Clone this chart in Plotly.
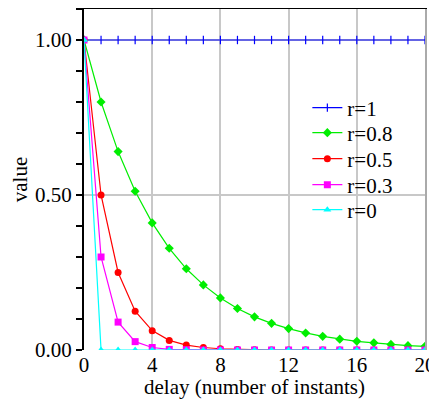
import plotly.graph_objects as go

delay = list(range(21))
names = ["r=1", "r=0.8", "r=0.5", "r=0.3", "r=0"]
v_r1 = [1.0] * 21
v_r08 = [1.0, 0.8, 0.64, 0.512, 0.41, 0.328, 0.262, 0.21, 0.168, 0.134, 0.107,
         0.086, 0.069, 0.055, 0.044, 0.035, 0.028, 0.023, 0.018, 0.014, 0.012]
v_r05 = [1.0, 0.5, 0.25, 0.125, 0.0625, 0.031, 0.016, 0.008, 0.004, 0.002, 0.001,
         0.0, 0.0, 0.0, 0.0, 0.0, 0.0, 0.0, 0.0, 0.0, 0.0]
v_r03 = [1.0, 0.3, 0.09, 0.027, 0.008, 0.002, 0.001, 0.0, 0.0, 0.0, 0.0,
         0.0, 0.0, 0.0, 0.0, 0.0, 0.0, 0.0, 0.0, 0.0, 0.0]
v_r0 = [1.0] + [0.0] * 20
series = [v_r1, v_r08, v_r05, v_r03, v_r0]
colors = ["#0000ff", "#00ee00", "#ff0000", "#ff00ff", "#00ffff"]
symbols = ["line-ns", "diamond", "circle", "square", "triangle-up"]
ytick_vals = [0, 0.5, 1.0]
legend_ids = ["legend", "legend2", "legend3", "legend4", "legend5"]
legend_y = [0.7097, 0.6364, 0.5601, 0.4839, 0.4106]

font = dict(family="Liberation Serif", size=21, color="black")

fig = go.Figure()
for name, vals, c, s, lg in zip(names, series, colors, symbols, legend_ids):
    marker = dict(symbol=s, size=7, color=c)
    if s == "line-ns":
        marker = dict(symbol=s, size=6, color=c, line=dict(color=c, width=1.2))
    fig.add_trace(go.Scatter(x=delay, y=vals, mode="lines+markers", name=name,
                             legend=lg,
                             line=dict(color=c, width=1.2), marker=marker))

legends = {}
for lg, ly in zip(legend_ids, legend_y):
    legends[lg] = dict(x=0.655, y=ly, xanchor="left", yanchor="middle",
                       bgcolor="rgba(0,0,0,0)", font=font, itemwidth=30,
                       borderwidth=0)

fig.update_layout(
    width=429, height=391,
    margin=dict(l=76, r=12, t=1, b=49),
    paper_bgcolor="white", plot_bgcolor="white",
    font=font,
    showlegend=True,
    xaxis=dict(range=[0, 20], dtick=4, tick0=0, showgrid=True, gridcolor="#c8c8c8",
               gridwidth=1.5, zeroline=False, showline=False, automargin=False,
               ticks="",
               title=dict(text="delay (number of instants)", standoff=0, font=font),
               tickfont=font),
    yaxis=dict(range=[0, 1.1], tickvals=ytick_vals, tickformat=".2f",
               showgrid=True, gridcolor="#c8c8c8", gridwidth=1.5, zeroline=False,
               showline=True, linecolor="black", linewidth=2, automargin=False,
               ticks="outside", ticklen=6, tickcolor="black", tickwidth=1.5,
               minor=dict(dtick=0.1, tick0=0, ticks="outside", ticklen=6,
                          tickcolor="black", tickwidth=1.5, showgrid=False),
               title=dict(text="value", standoff=8, font=font), tickfont=font),
    xaxis2=dict(overlaying="x", side="top", range=[0, 20], showline=True,
                linecolor="black", linewidth=2, showticklabels=False,
                showgrid=False, zeroline=False, ticks=""),
    yaxis2=dict(overlaying="y", side="right", range=[0, 1.1], showline=True,
                linecolor="#aaaaaa", linewidth=2, showticklabels=False,
                showgrid=False, zeroline=False, ticks=""),
    **legends,
)
# invisible trace to activate the top/right frame axes
fig.add_trace(go.Scatter(x=[None], y=[None], xaxis="x2", yaxis="y2",
                         showlegend=False, hoverinfo="skip"))
fig.write_html("out.html")
